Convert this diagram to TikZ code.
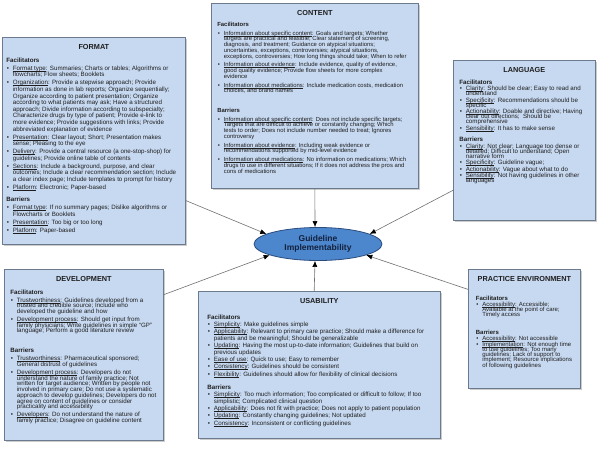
\documentclass[tikz,border=0pt]{standalone}
\usepackage{fontspec}
\setmainfont{Liberation Sans}
\usepackage{xcolor}
\usetikzlibrary{arrows.meta,shapes.geometric,shadows}

\definecolor{panelfill}{HTML}{C7D9F1}
\definecolor{paneledge}{HTML}{6B7A8F}
\definecolor{goalfill}{HTML}{4C87CD}
\definecolor{goaledge}{HTML}{2A4B7C}
\definecolor{goaltext}{HTML}{14213D}
\definecolor{linkgray}{HTML}{707070}
\definecolor{textdark}{HTML}{1E1E1E}

\newlength\itgap
\newlength\secgap
\newlength\ttlgap
\newsavebox\lblbox
% font size, baselineskip, item gap, gap before Barriers, gap after title
\newcommand{\boxset}[5]{\fontsize{#1}{#2}\selectfont\lineskiplimit=-20pt\lineskip=0pt
	\setlength\itgap{#3}\setlength\secgap{#4}\setlength\ttlgap{#5}\raggedright\hbadness=10000}
\newcommand{\ttl}[1]{{\centering\fontsize{7.3}{8}\selectfont\bfseries #1\par}\vspace{\ttlgap}}
\newcommand{\hd}[1]{\par\textbf{#1}\par}
\newcommand{\hdb}[1]{\par\vspace{\secgap}\textbf{#1}\par}
\newcommand{\lbl}[1]{\sbox\lblbox{#1}\rlap{\rule[-0.8pt]{\wd\lblbox}{0.3pt}}\usebox\lblbox}
\newcommand{\itm}[2]{\par\vspace{\itgap}\hangindent=6.5pt\hangafter=1\noindent
	\makebox[6.5pt][l]{\hspace{0.6pt}\textbullet}\lbl{#1}: #2\par}

\begin{document}
\begin{tikzpicture}[x=1pt,y=-1pt,
		panel/.style={draw=paneledge,line width=0.7pt,fill=panelfill,inner ysep=7.2pt,anchor=north west,text=textdark,
			drop shadow={shadow xshift=1.8pt,shadow yshift=-1.8pt,opacity=0.4}},
		goalnode/.style={ellipse,draw=goaledge,line width=0.8pt,fill=goalfill,minimum width=128pt,minimum height=33pt,
			inner sep=0pt,align=center,text=goaltext,font=\fontsize{8.5}{9.3}\selectfont\bfseries},
		linkline/.style={draw=linkgray,line width=0.6pt,-{Latex[length=6pt,width=5pt,color=black]}}]
	\useasboundingbox (0,0) rectangle (600,451);

	\node[panel,inner xsep=4pt] (format) at (2,37) {\parbox[t][192.6pt][t]{175pt}{%
			\boxset{6.2}{6.6}{1.4pt}{5.4pt}{6.0pt}
			\ttl{FORMAT}
			\hd{Facilitators}
			\itm{Format type}{Summaries; Charts or tables; Algorithms or\newline flowcharts; Flow sheets; Booklets}
			\itm{Organization}{Provide a stepwise approach; Provide\newline information as done in lab reports; Organize sequentially;\newline Organize according to patient presentation; Organize\newline according to what patients may ask; Have a structured\newline approach; Divide information according to subspecialty;\newline Characterize drugs by type of patient; Provide e-link to\newline more evidence; Provide suggestions with links; Provide\newline abbreviated explanation of evidence}
			\itm{Presentation}{Clear layout; Short; Presentation makes\newline sense; Pleasing to the eye}
			\itm{Delivery}{Provide a central resource (a one-stop-shop) for\newline guidelines; Provide online table of contents}
			\itm{Sections}{Include a background, purpose, and clear\newline outcomes; Include a clear recommendation section; Include\newline a clear index page; Include templates to prompt for history}
			\itm{Platform}{Electronic; Paper-based}
			\hdb{Barriers}
			\itm{Format type}{If no summary pages; Dislike algorithms or\newline Flowcharts or Booklets}
			\itm{Presentation}{Too big or too long}
			\itm{Platform}{Paper-based}}};

	\node[panel,inner xsep=6pt] (content) at (211,3) {\parbox[t][170.6pt][t]{195pt}{%
			\boxset{5.9}{5.8}{2.8pt}{13.9pt}{5.0pt}
			\ttl{CONTENT}
			\hd{Facilitators}
			\itm{Information about specific content}{Goals and targets; Whether\newline targets are practical and feasible; Clear statement of screening,\newline diagnosis, and treatment; Guidance on atypical situations;\newline uncertainties, exceptions, controversies; atypical situations,\newline exceptions, controversies; How long things should take; When to refer}
			\itm{Information about evidence}{Include evidence, quality of evidence,\newline good quality evidence; Provide flow sheets for more complex\newline evidence}
			\itm{Information about medications}{Include medication costs, medication\newline choices, and brand names}
			\hdb{Barriers}
			\itm{Information about specific content}{Does not include specific targets;\newline Targets that are difficult to achieve or constantly changing; Which\newline tests to order; Does not include number needed to treat; Ignores\newline controversy}
			\itm{Information about evidence}{Including weak evidence or\newline recommendations supported by mid-level evidence}
			\itm{Information about medications}{No information on medications; Which\newline drugs to use in different situations; If it does not address the pros and\newline cons of medications}}};

	\node[panel,inner xsep=6pt] (language) at (453,60) {\parbox[t][145.6pt][t]{130pt}{%
			\boxset{6.2}{5.1}{1.3pt}{6.6pt}{6.4pt}
			\ttl{LANGUAGE}
			\hd{Facilitators}
			\itm{Clarity}{Should be clear; Easy to read and\newline understand}
			\itm{Specificity}{Recommendations should be\newline specific}
			\itm{Actionability}{Doable and directive; Having\newline clear out directions;\ \ Should be\newline comprehensive}
			\itm{Sensibility}{It has to make sense}
			\hdb{Barriers}
			\itm{Clarity}{Not clear; Language too dense or\newline detailed; Difficult to understand; Open\newline narrative form}
			\itm{Specificity}{Guideline vague;}
			\itm{Actionability}{Vague about what to do}
			\itm{Sensibility}{Not having guidelines in other\newline languages}}};

	\node[panel,inner xsep=6pt] (develop) at (4,269) {\parbox[t][156.6pt][t]{147pt}{%
			\boxset{6.2}{5.7}{2.3pt}{14.2pt}{6.8pt}
			\ttl{DEVELOPMENT}
			\hd{Facilitators}
			\itm{Trustworthiness}{Guidelines developed from a\newline trusted and credible source; Include who\newline developed the guideline and how}
			\itm{Development process}{Should get input from\newline family physicians; Write guidelines in simple ``GP''\newline language; Perform a good literature review}
			\hdb{Barriers}
			\itm{Trustworthiness}{Pharmaceutical sponsored;\newline General distrust of guidelines}
			\itm{Development process}{Developers do not\newline understand the nature of family practice; Not\newline written for target audience; Written by people not\newline involved in primary care; Do not use a systematic\newline approach to develop guidelines; Developers do not\newline agree on content of guidelines or consider\newline practicality and accessibility}
			\itm{Developers}{Do not understand the nature of\newline family practice; Disagree on guideline content}}};

	\node[panel,inner xsep=9pt] (usability) at (198,291) {\parbox[t][132.6pt][t]{224pt}{%
			\boxset{6.2}{6.6}{0.7pt}{6.6pt}{8.9pt}
			\ttl{USABILITY}
			\hd{Facilitators}
			\itm{Simplicity}{Make guidelines simple}
			\itm{Applicability}{Relevant to primary care practice; Should make a difference for\newline patients and be meaningful; Should be generalizable}
			\itm{Updating}{Having the most up-to-date information; Guidelines that build on\newline previous updates}
			\itm{Ease of use}{Quick to use; Easy to remember}
			\itm{Consistency}{Guidelines should be consistent}
			\itm{Flexibility}{Guidelines should allow for flexibility of clinical decisions}
			\hdb{Barriers}
			\itm{Simplicity}{Too much information; Too complicated or difficult to follow; If too\newline simplistic; Complicated clinical question}
			\itm{Applicability}{Does not fit with practice; Does not apply to patient population}
			\itm{Updating}{Constantly changing guidelines; Not updated}
			\itm{Consistency}{Inconsistent or conflicting guidelines}}};

	\node[panel,inner xsep=7.5pt] (practice) at (468,269) {\parbox[t][104.6pt][t]{97pt}{%
			\boxset{6.0}{5.2}{0.6pt}{12.6pt}{13.9pt}
			\ttl{PRACTICE ENVIRONMENT}
			\hd{Facilitators}
			\itm{Accessibility}{Accessible;\newline Available at the point of care;\newline Timely access}
			\hdb{Barriers}
			\itm{Accessibility}{Not accessible}
			\itm{Implementation}{Not enough time\newline to use guidelines; Too many\newline guidelines; Lack of support to\newline implement; Resource implications\newline of following guidelines}}};

	\node[goalnode] (goal) at (318,244) {Guideline\\Implementability};

	\draw[linkline] (format.-33) -- (goal.169);
	\draw[linkline] (content.south) -- (goal.100);
	\draw[linkline] (language.215) -- (goal.11);
	\draw[linkline] (develop.37) -- (goal.193);
	\draw[linkline] (usability.94) -- (goal.-100);
	\draw[linkline] (practice.145) -- (goal.-13);
\end{tikzpicture}
\end{document}
